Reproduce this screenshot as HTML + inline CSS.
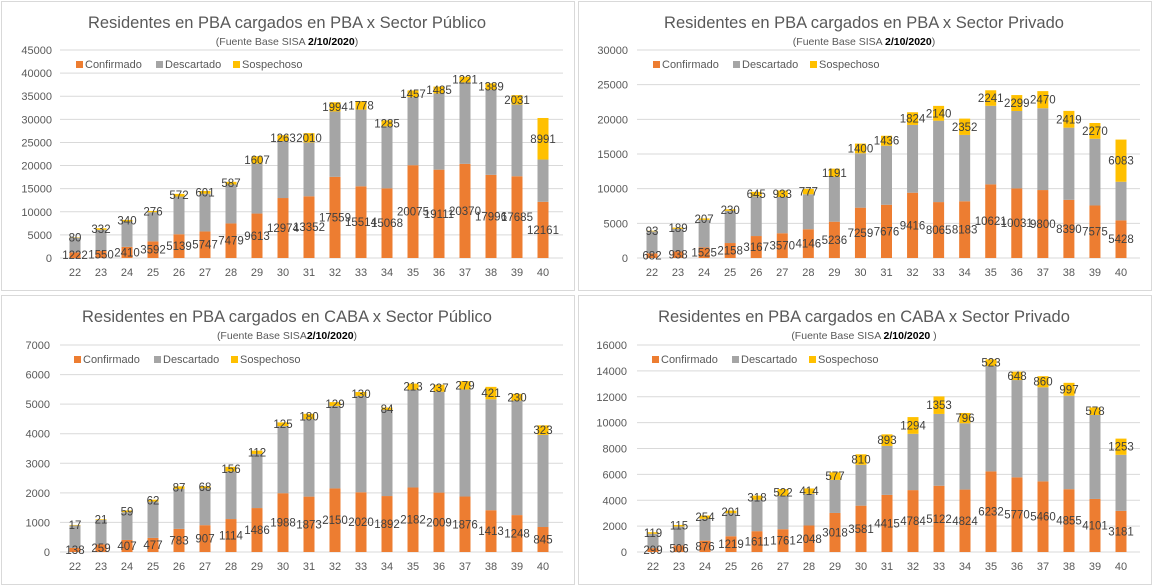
<!DOCTYPE html>
<html><head><meta charset="utf-8">
<style>
body{margin:0;background:#fff;width:1152px;height:585px;overflow:hidden;font-family:"Liberation Sans",sans-serif;}
svg{display:block}
</style></head>
<body>
<svg id="root" width="1152" height="585"></svg>
<script>
const weeks = ["22","23","24","25","26","27","28","29","30","31","32","33","34","35","36","37","38","39","40"];

const c1Conf = [1222,1550,2410,3592,5139,5747,7479,9613,12974,13352,17559,15514,15068,20075,19111,20370,17996,17685,12161];
const c1Desc = [3180,4550,5490,6310,8160,8150,8420,10790,12330,11650,14140,16590,13430,14725,16490,17630,18400,15515,9140];
const c1Sosp = [80,332,340,276,572,601,587,1607,1263,2010,1994,1778,1285,1457,1485,1221,1389,2031,8991];
const c1Ticks = [0,5000,10000,15000,20000,25000,30000,35000,40000,45000];

const c2Conf = [682,938,1525,2158,3167,3570,4146,5236,7259,7676,9416,8065,8183,10621,10031,9800,8390,7575,5428];
const c2Desc = [3160,3260,3975,4640,5730,5230,5050,6460,7840,8520,9780,11735,9570,11330,11170,11800,10410,9625,5570];
const c2Sosp = [93,189,207,230,645,933,777,1191,1400,1436,1824,2140,2352,2241,2299,2470,2419,2270,6083];
const c2Ticks = [0,5000,10000,15000,20000,25000,30000];

const c3Conf = [138,259,407,477,783,907,1114,1486,1988,1873,2150,2020,1892,2182,2009,1876,1413,1248,845];
const c3Desc = [760,830,940,1230,1350,1250,1610,1830,2270,2620,2790,3260,2910,3300,3410,3620,3750,3870,3115];
const c3Sosp = [17,21,59,62,87,68,156,112,125,180,129,130,84,213,237,279,421,230,323];
const c3Ticks = [0,1000,2000,3000,4000,5000,6000,7000];

const c4Conf = [299,506,876,1219,1611,1761,2048,3018,3581,4415,4784,5122,4824,6232,5770,5460,4855,4101,3181];
const c4Desc = [1110,1470,1690,1780,2430,2580,2450,2560,3160,3785,4350,5550,5125,8140,7520,7270,7225,6490,4330];
const c4Sosp = [119,115,254,201,318,522,414,577,810,893,1294,1353,796,523,648,860,997,578,1253];
const c4Ticks = [0,2000,4000,6000,8000,10000,12000,14000,16000];

const NS="http://www.w3.org/2000/svg";
const root=document.getElementById('root');
function mk(tag,attrs,parent,text){const e=document.createElementNS(NS,tag);for(const k in attrs)e.setAttribute(k,attrs[k]);if(text!==undefined)e.textContent=text;parent.appendChild(e);return e;}

function drawChart(o){
  const g=mk('g',{},root);
  
  
  const fr=mk('rect',{x:o.px+0.5,y:o.py+0.5,width:o.pw,height:o.ph,fill:'#fff',stroke:'#d9d9d9'},g);
  
  
  const t=mk('text',{x:o.tx,y:o.py+27,'text-anchor':'middle','font-size':16.5,fill:'#595959'},g,o.title);
  
  
  const st=mk('text',{x:o.sx,y:o.py+44,'text-anchor':'middle','font-size':10.5,fill:'#595959'},g);
  
  
  mk('tspan',{},st,o.sub1);
  mk('tspan',{'font-weight':'bold',fill:'#000'},st,'2/10/2020');
  mk('tspan',{},st,o.sub2);
  const max=o.ticks[o.ticks.length-1];
  const y=v=>o.y0-(v/max)*(o.y0-o.yTop);
  const x=i=>o.x22+i*(o.x40-o.x22)/(weeks.length-1);
  o.ticks.forEach(tk=>{
    const ln=mk('line',{x1:o.gx1,x2:o.gx2,y1:y(tk),y2:y(tk),stroke:'#d9d9d9','stroke-width':1},g);
    
    
    const tl=mk('text',{x:o.lx,y:y(tk)+4,'text-anchor':'end','font-size':11,fill:'#595959'},g,String(tk));
    
    
  });
  const leg=[['Confirmado','#ed7d31'],['Descartado','#a5a5a5'],['Sospechoso','#ffc000']];
  let lx=o.legX;
  leg.forEach(([n,c],k)=>{
    const lg=mk('g',{},g);
    
    
    mk('rect',{x:lx,y:o.legY-7,width:7,height:7,fill:c},lg);
    mk('text',{x:lx+9,y:o.legY,'font-size':11,fill:'#595959'},lg,n);
    lx+=[80,77,0][k];
  });
  const bw=11;
  weeks.forEach((w,i)=>{
    const cx=x(i);
    const c=o.conf[i],d=o.desc[i],s=o.sosp[i];
    const r1=mk('rect',{x:cx-bw/2,y:y(c),width:bw,height:o.y0-y(c),fill:'#ed7d31'},g);
    
    
    const r2=mk('rect',{x:cx-bw/2,y:y(c+d),width:bw,height:y(c)-y(c+d),fill:'#a5a5a5'},g);
    
    
    const r3=mk('rect',{x:cx-bw/2,y:y(c+d+s),width:bw,height:y(c+d)-y(c+d+s),fill:'#ffc000'},g);
    
    
    const l1=mk('text',{x:cx,y:(y(0)+y(c))/2+4,'text-anchor':'middle','font-size':11.5,fill:'#404040'},g,String(c));
    
    
    const l3=mk('text',{x:cx,y:(y(c+d)+y(c+d+s))/2+4,'text-anchor':'middle','font-size':11.5,fill:'#404040'},g,String(s));
    
    
    const xl=mk('text',{x:cx,y:o.y0+18,'text-anchor':'middle','font-size':11,fill:'#595959'},g,w);
    
    
  });
}

drawChart({name:'chart-pba-publico',px:1,py:1,pw:573,ph:289,tx:287,sx:287,title:'Residentes en  PBA cargados en PBA x Sector Público',sub1:'(Fuente  Base SISA ',sub2:')',
  ticks:c1Ticks,conf:c1Conf,desc:c1Desc,sosp:c1Sosp,y0:258,yTop:50,x22:75,x40:543,gx1:60,gx2:563,lx:52,legX:76,legY:68});
drawChart({name:'chart-pba-privado',px:578,py:1,pw:573,ph:289,tx:864,sx:864,title:'Residentes en  PBA cargados en PBA x Sector Privado',sub1:'(Fuente  Base SISA ',sub2:')',
  ticks:c2Ticks,conf:c2Conf,desc:c2Desc,sosp:c2Sosp,y0:258,yTop:50,x22:652,x40:1121,gx1:637,gx2:1140,lx:628,legX:653,legY:68});
drawChart({name:'chart-caba-publico',px:1,py:295,pw:573,ph:289,tx:287,sx:287,title:'Residentes en  PBA cargados en CABA x Sector Público',sub1:'(Fuente  Base SISA',sub2:')',
  ticks:c3Ticks,conf:c3Conf,desc:c3Desc,sosp:c3Sosp,y0:552,yTop:345,x22:75,x40:543,gx1:60,gx2:563,lx:50,legX:74,legY:363});
drawChart({name:'chart-caba-privado',px:578,py:295,pw:573,ph:289,tx:864,sx:864,title:'Residentes en  PBA cargados en CABA x Sector Privado',sub1:'(Fuente  Base SISA     ',sub2:' )',
  ticks:c4Ticks,conf:c4Conf,desc:c4Desc,sosp:c4Sosp,y0:552,yTop:345,x22:653,x40:1121,gx1:637,gx2:1140,lx:627,legX:652,legY:363});
</script>
</body></html>
